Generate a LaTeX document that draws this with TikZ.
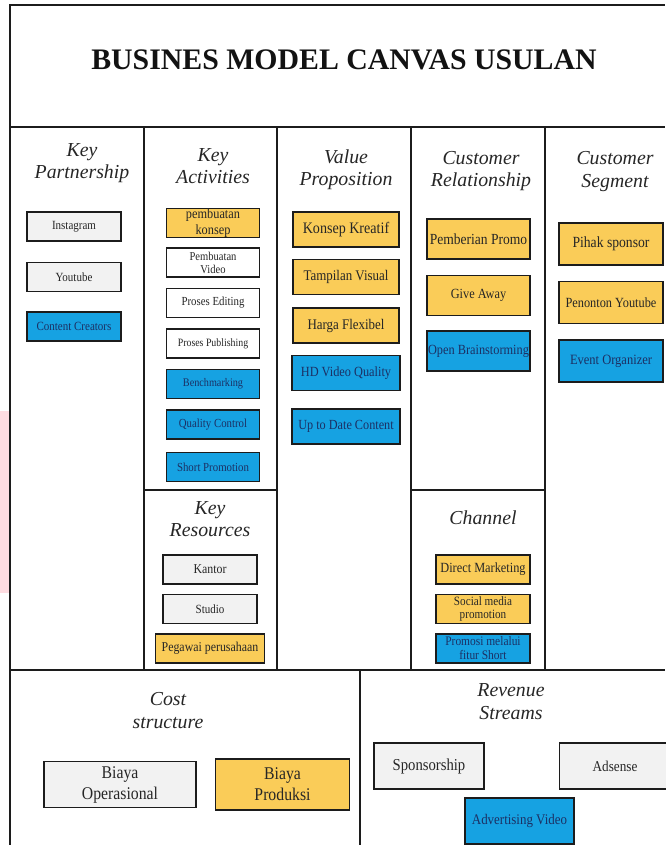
\documentclass[tikz,border=0pt]{standalone}
\usepackage{fontspec}
\setmainfont{Liberation Serif}
\newfontfamily\boxfont[FakeStretch=0.88]{Liberation Serif}
\usetikzlibrary{positioning}
\definecolor{bmcyellow}{RGB}{250,204,88}
\definecolor{bmcblue}{RGB}{22,162,226}
\definecolor{bmcgrey}{RGB}{242,242,242}
\definecolor{bmcnavy}{RGB}{28,48,100}
\definecolor{bmcline}{RGB}{28,28,28}
\definecolor{bmcpink}{RGB}{255,220,225}

\begin{document}
\begin{tikzpicture}[x=1pt,y=-1pt,
frame/.style={draw=bmcline,line width=1.6pt},
sz/.style 2 args={font={\boxfont\fontsize{#1}{#2}\selectfont}},
cell/.style={draw=bmcline,line width=1.5pt,inner sep=0pt,align=center,text=black!85},
yb/.style={cell,fill=bmcyellow},
bb/.style={cell,fill=bmcblue,text=bmcnavy},
gb/.style={cell,fill=bmcgrey},
wb/.style={cell,fill=white},
head/.style={align=center,text=black!85,font=\itshape\fontsize{19.8}{22.5}\selectfont},
kp/.style={minimum width=94pt,minimum height=29pt,sz={12.5}{14}},
ka/.style={minimum width=93pt,minimum height=29pt,sz={12.3}{13}},
vp/.style={minimum width=106pt,minimum height=35pt,sz={14.7}{16}},
cr/.style={minimum width=103pt,minimum height=40pt,sz={14}{16}},
cs/.style={minimum width=104pt,minimum height=42pt,sz={14.2}{16}},
kr/.style={minimum width=94pt,minimum height=29pt,sz={13.5}{14}},
ch/.style={minimum width=94pt,minimum height=29pt,sz={13}{14}},
bt/.style={minimum height=46pt,sz={16.5}{21}}]
\useasboundingbox (0,0) rectangle (665,845);
\fill[bmcpink] (0,411) rectangle (9,593);
\draw[frame] (10,845) |- (665,5);
\draw[frame,line width=2.4pt] (10,127) -- (665,127);
\draw[frame,line width=2.4pt] (10,670) -- (665,670);
\foreach \x in {144,277,411,545} \draw[frame] (\x,127) -- (\x,670);
\draw[frame] (144,490) -- (277,490) (411,490) -- (545,490);
\draw[frame] (360,670) -- (360,845);

\node[text=black!93,font=\bfseries\fontsize{29.8}{29.8}\selectfont] (t) at (344,60) {BUSINES MODEL CANVAS USULAN};

\node[head] (hkp) at (82,163) {Key\\Partnership};
\node[head] (hka) at (213,166) {Key\\Activities};
\node[head] (hvp) at (346,169.5) {Value\\Proposition};
\node[head] (hcr) at (481,171) {Customer\\Relationship};
\node[head] (hcs) at (615,171.5) {Customer\\Segment};
\node[head] (hkr) at (210,519) {Key\\Resources};
\node[head] (hch) at (483,518) {Channel};
\node[head] (hcost) at (168,710.5) {Cost\\structure};
\node[head] (hrev) at (511,701.5) {Revenue\\Streams};

\node[gb,kp] (p1) at (74,226.5) {Instagram};
\node[gb,kp,below=20pt of p1] (p2) {Youtube};
\node[bb,kp,below=19pt of p2] (p3) {Content Creators};

\node[yb,ka,sz={14}{16}] (a1) at (213,223) {pembuatan\\konsep};
\node[wb,ka,sz={12}{13},below=9pt of a1] (a2) {Pembuatan\\Video};
\node[wb,ka,below=10pt of a2] (a3) {Proses Editing};
\node[wb,ka,sz={11.2}{13},below=10pt of a3] (a4) {Proses Publishing};
\node[bb,ka,sz={11.6}{13},below=10pt of a4] (a5) {Benchmarking};
\node[bb,ka,below=10pt of a5] (a6) {Quality Control};
\node[bb,ka,below=12pt of a6] (a7) {Short Promotion};

\node[yb,vp,sz={16}{16}] (v1) at (346,229.5) {Konsep Kreatif};
\node[yb,vp,below=11pt of v1] (v2) {Tampilan Visual};
\node[yb,vp,below=12pt of v2] (v3) {Harga Flexibel};
\node[bb,vp,minimum width=108pt,sz={14}{16},below=11pt of v3] (v4) {HD Video Quality};
\node[bb,vp,minimum width=108pt,sz={13.9}{16},below=17pt of v4] (v5) {Up to Date Content};

\node[yb,cr,sz={15.4}{16}] (r1) at (478.5,239) {Pemberian Promo};
\node[yb,cr,below=15pt of r1] (r2) {Give Away};
\node[bb,cr,below=14pt of r2] (r3) {Open Brainstorming};

\node[yb,cs,sz={15.5}{16}] (s1) at (611,244) {Pihak sponsor};
\node[yb,cs,sz={14}{16},below=15pt of s1] (s2) {Penonton Youtube};
\node[bb,cs,below=15pt of s2] (s3) {Event Organizer};

\node[gb,kr] (k1) at (210,569.5) {Kantor};
\node[gb,kr,sz={12.5}{14},below=9pt of k1] (k2) {Studio};
\node[yb,kr,minimum width=109pt,below=9pt of k2] (k3) {Pegawai perusahaan};

\node[yb,ch,sz={14}{14}] (c1) at (483,569.5) {Direct Marketing};
\node[yb,ch,sz={12.7}{13},below=9pt of c1] (c2) {Social media\\promotion};
\node[bb,ch,below=9pt of c2] (c3) {Promosi melalui\\fitur Short};

\node[gb,bt,minimum width=152pt,sz={17.9}{21}] (b1) at (120,784.5) {Biaya\\Operasional};
\node[yb,bt,minimum width=134pt,minimum height=51pt,sz={17.9}{21},right=18pt of b1] (b2) {Biaya\\Produksi};

\node[gb,bt,minimum width=110pt,sz={16.7}{21}] (rv1) at (429,766) {Sponsorship};
\node[gb,bt,minimum width=111pt,sz={15}{21},right=74pt of rv1] (rv2) {Adsense};
\node[bb,bt,minimum width=109pt,sz={14.7}{21}] (rv3) at (519.5,821) {Advertising Video};
\end{tikzpicture}
\end{document}
